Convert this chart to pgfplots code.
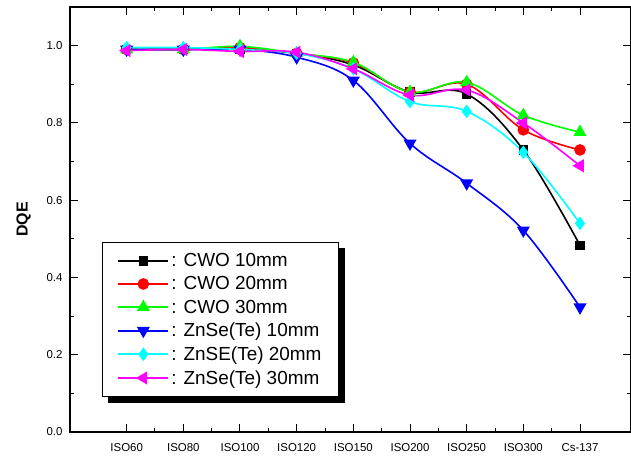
\documentclass[border=0pt]{standalone}
\usepackage{pgfplots}
\pgfplotsset{compat=1.18}
\usepackage{fontspec}
\setmainfont{Liberation Sans}
\pgfdeclarelayer{background}
\pgfsetlayers{background,main}
\definecolor{cgreen}{RGB}{0,255,0}
\definecolor{ccyan}{RGB}{0,255,255}
\definecolor{cmag}{RGB}{255,0,255}
\definecolor{cred}{RGB}{255,0,0}
\definecolor{cblue}{RGB}{0,0,255}
\begin{document}
\begin{tikzpicture}
\begin{axis}[
  name=ax,
  scale only axis,
  width=561bp, height=425bp,
  xmin=-1, xmax=8.9,
  ymin=0, ymax=1.1,
  xtick={0,1,2,3,4,5,6,7,8},
  xticklabels={ISO60,ISO80,ISO100,ISO120,ISO150,ISO200,ISO250,ISO300,Cs-137},
  ytick={0,0.2,0.4,0.6,0.8,1.0},
  minor x tick num=1,
  minor y tick num=1,
  major tick length=8bp,
  minor tick length=4bp,
  axis line style={line width=1.3bp},
  tick style={line width=1bp, black},
  tick label style={font=\fontsize{11.5}{13}\selectfont},
  yticklabel style={xshift=-4bp, /pgf/number format/fixed, /pgf/number format/fixed zerofill, /pgf/number format/precision=1, /pgf/number format/assume math mode=true},
  xticklabel style={yshift=-8bp},
  ylabel={\fontsize{16}{18}\selectfont\bfseries DQE},
  ylabel style={yshift=9bp},
  every axis plot/.append style={line width=1.6bp, smooth, tension=0.6},
  legend cell align=left,
  legend image code/.code={
    \draw[#1, line width=2bp, sharp plot, mark=none] (0bp,0bp) -- (50bp,0bp);
    \draw[#1, only marks] plot coordinates {(25bp,0bp)};},
  legend style={name=leg, at={(0.057,0.447)}, anchor=north west, draw=black, line width=0.8bp, fill=white,
    font=\fontsize{19}{21}\selectfont, row sep=4.5bp, inner xsep=15bp, inner ysep=9bp},
]
\addplot[black, mark=square*, mark size=4bp, mark options={solid}] coordinates {(0,0.99) (1,0.99) (2,0.99) (3,0.98) (4,0.95) (5,0.88) (6,0.875) (7,0.73) (8,0.483)};
\addlegendentry{: CWO 10mm}
\addplot[cred, mark=*, mark size=5bp] coordinates {(0,0.99) (1,0.99) (2,0.995) (3,0.98) (4,0.955) (5,0.88) (6,0.90) (7,0.782) (8,0.73)};
\addlegendentry{: CWO 20mm}
\addplot[cgreen, mark=triangle*, mark size=6bp] coordinates {(0,0.99) (1,0.99) (2,0.998) (3,0.98) (4,0.957) (5,0.88) (6,0.905) (7,0.82) (8,0.776)};
\addlegendentry{: CWO 30mm}
\addplot[cblue, mark=triangle*, mark size=6bp, mark options={rotate=180}] coordinates {(0,0.99) (1,0.99) (2,0.99) (3,0.97) (4,0.91) (5,0.747) (6,0.644) (7,0.522) (8,0.323)};
\addlegendentry{: ZnSe(Te) 10mm}
\addplot[ccyan, mark=diamond*, mark size=5.5bp] coordinates {(0,0.995) (1,0.995) (2,0.99) (3,0.98) (4,0.94) (5,0.855) (6,0.83) (7,0.724) (8,0.54)};
\addlegendentry{: ZnSE(Te) 20mm}
\addplot[cmag, mark=triangle*, mark size=6bp, mark options={rotate=90}] coordinates {(0,0.987) (1,0.99) (2,0.985) (3,0.983) (4,0.94) (5,0.872) (6,0.885) (7,0.80) (8,0.689)};
\addlegendentry{: ZnSe(Te) 30mm}
\end{axis}
\begin{pgfonlayer}{background}
\fill[black] ([shift={(6bp,-6bp)}]leg.south west) rectangle ([shift={(6bp,-6bp)}]leg.north east);
\end{pgfonlayer}
\pgfresetboundingbox
\path ([xshift=-70bp,yshift=-27bp]ax.south west) rectangle ([yshift=7bp]ax.north east);
\end{tikzpicture}
\end{document}
